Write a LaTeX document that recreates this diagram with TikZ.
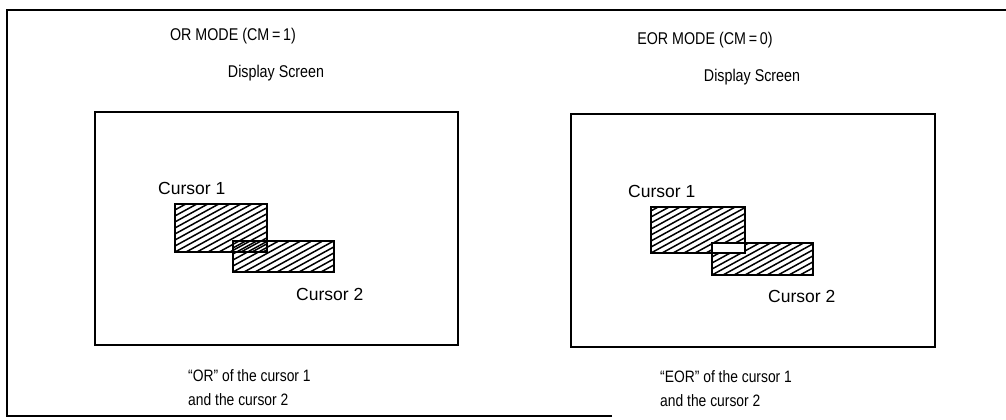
\documentclass[tikz,border=0pt]{standalone}
\usepackage{fontspec}
\setmainfont{Liberation Sans}
\newfontfamily\narrowsans[FakeStretch=0.84]{Liberation Sans}
\begin{document}
\begin{tikzpicture}[x=1pt,y=-1pt,
  lbl/.style={inner sep=0pt,font=\fontsize{17.5}{20}\selectfont},
  lblw/.style={lbl,anchor=west},
  title/.style={inner sep=0pt,font=\narrowsans\fontsize{17}{20}\selectfont},
  screen/.style={inner sep=0pt,font=\narrowsans\fontsize{17}{20}\selectfont},
  note/.style={inner sep=0pt,anchor=west,font=\narrowsans\fontsize{16.5}{19}\selectfont},
  frame/.style={line width=2pt},
  box/.style={line width=2pt},
  hatch/.style={line width=1.5pt}]
\useasboundingbox (0,0) rectangle (1006,420);
\newcommand\hatchrect[4]{%
  \begin{scope}
    \clip (#1,#2) rectangle (#3,#4);
    \foreach \i in {-132,-121,...,140}
      \draw[hatch] (#1+\i,#4) -- ++(150,-82);
  \end{scope}}
% outer frame
\draw[frame] (612,416) -- (7,416) -- (7,10) -- (1006,10);
% left
\node[title] (t1) at (233,36) {OR MODE (CM\,=\,1)};
\node[screen] (d1) at (276,73) {Display Screen};
\draw[box] (95,112) rectangle (458,345);
\hatchrect{175}{204}{267}{252}
\hatchrect{233}{241}{334}{272}
\draw[box] (175,204) rectangle (267,252);
\draw[box] (233,241) rectangle (334,272);
\node[lblw] (c1) at (158,188) {Cursor 1};
\node[lblw] (c2) at (296,294) {Cursor 2};
\node[note] (b1) at (188,376) {“OR” of the cursor 1};
\node[note] (b2) at (188,400) {and the cursor 2};
% right
\node[title] (t2) at (705,40) {EOR MODE (CM\,=\,0)};
\node[screen] (d2) at (752,77) {Display Screen};
\draw[box] (571,114) rectangle (935,347);
\hatchrect{651}{207}{745}{253}
\hatchrect{712}{243}{813}{275}
\fill[white] (712,243) rectangle (745,253);
\draw[box] (651,207) rectangle (745,253);
\draw[box] (712,243) rectangle (813,275);
\node[lblw] (c3) at (628,191) {Cursor 1};
\node[lblw] (c4) at (768,296) {Cursor 2};
\node[note] (b3) at (660,377) {“EOR” of the cursor 1};
\node[note] (b4) at (660,401) {and the cursor 2};
\end{tikzpicture}
\end{document}
